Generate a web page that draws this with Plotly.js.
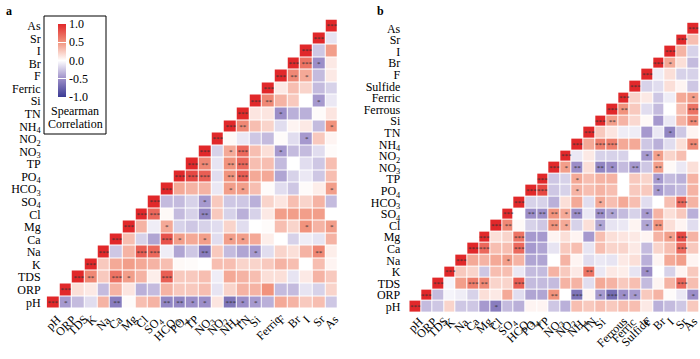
<!DOCTYPE html>
<html>
<head>
<meta charset="utf-8">
<script src="https://cdn.plot.ly/plotly-3.0.1.min.js"></script>
<style>
	body { margin: 0; background: #fff; }
	#chart { width: 700px; height: 359px; }
</style>
</head>
<body>
<div id="chart"></div>
<script>
// variables, bottom row / left column first
const labelsA = ['pH', 'ORP', 'TDS', 'K', 'Na', 'Ca', 'Mg', 'Cl', 'SO<sub>4</sub>', 'HCO<sub>3</sub>',
	'PO<sub>4</sub>', 'TP', 'NO<sub>3</sub>', 'NO<sub>2</sub>', 'NH<sub>4</sub>', 'TN', 'Si', 'Ferric',
	'F', 'Br', 'I', 'Sr', 'As'];

const labelsB = ['pH', 'ORP', 'TDS', 'K', 'Na', 'Ca', 'Mg', 'Cl', 'SO<sub>4</sub>', 'HCO<sub>3</sub>',
	'PO<sub>4</sub>', 'TP', 'NO<sub>3</sub>', 'NO<sub>2</sub>', 'NH<sub>4</sub>', 'TN', 'Si', 'Ferrous',
	'Ferric', 'Sulfide', 'F', 'Br', 'I', 'Sr', 'As'];

// each row starts at the diagonal
const corrA = [
	[1, -0.45, -0.3, -0.15, 0.35, -0.6, 0.02, 0.3, 0.35, -0.55, -0.55, -0.5, -0.5, 0.12, -0.65, -0.5, -0.45, -0.35, 0.4, 0.35, 0.25, 0.3, -0.25],
	[1, 0.15, 0.1, -0.3, 0.35, 0.12, -0.35, -0.3, 0.35, 0.25, 0.25, 0.3, -0.12, 0.2, 0.35, 0.35, 0.5, -0.3, -0.3, -0.12, -0.2, 0.2],
	[1, 0.55, 0.25, 0.65, 0.45, 0.35, 0.08, 0.75, 0.25, 0.25, 0.3, -0.08, 0.4, 0.35, 0.3, 0.15, 0.15, -0.12, 0.1, 0.35, 0.25],
	[1, 0.25, 0.4, 0.45, 0.4, 0.35, 0.3, 0.03, 0.02, 0, 0.3, 0.3, 0.2, 0.2, 0.25, 0.35, 0.3, 0, 0.3, 0.05],
	[1, -0.25, 0.35, 0.75, 0.7, -0.08, -0.4, -0.25, -0.6, 0.25, -0.3, -0.4, -0.45, -0.15, 0.2, 0.15, 0.35, 0.55, 0.08],
	[1, 0.3, -0.2, -0.4, 0.8, 0.45, 0.4, 0.45, -0.15, 0.45, 0.45, 0.4, 0.08, 0, -0.2, -0.08, -0.12, 0.35],
	[1, 0.35, -0.08, 0.4, -0.2, -0.25, -0.2, -0.15, 0.2, -0.15, 0, 0.02, 0.3, 0.2, 0.5, 0.35, 0.45],
	[1, 0.7, 0.03, -0.3, -0.2, -0.55, 0.25, -0.2, -0.35, -0.2, 0.1, 0.45, 0.45, 0.45, 0.45, 0],
	[1, -0.3, -0.3, -0.2, -0.45, 0.25, -0.25, -0.25, -0.35, 0.2, 0.12, 0.3, 0.2, 0.35, -0.3],
	[1, 0.4, 0.35, 0.35, -0.1, 0.45, 0.45, 0.3, 0.02, -0.15, -0.25, 0.02, 0.08, 0.45],
	[1, 0.85, 0.75, -0.15, 0.5, 0.75, 0.4, 0.4, -0.4, -0.2, -0.1, -0.25, 0.3],
	[1, 0.55, -0.12, 0.5, 0.7, 0.3, 0.3, -0.3, 0, -0.15, -0.25, 0.3],
	[1, -0.2, 0.4, 0.7, 0.3, 0.15, -0.45, -0.3, -0.3, -0.15, 0.02],
	[1, 0.03, -0.1, -0.25, -0.3, 0.02, -0.15, -0.45, 0.25, 0.05],
	[1, 0.55, 0.3, 0.2, -0.15, 0.05, 0.1, -0.3, 0.5],
	[1, 0.12, 0.12, -0.5, -0.35, -0.35, 0.02, 0.12],
	[1, 0.55, 0.35, 0.25, 0, -0.45, -0.1],
	[1, 0.1, 0.3, 0.2, -0.3, -0.2],
	[1, 0.55, 0.4, -0.3, 0.1],
	[1, 0.65, -0.5, 0.1],
	[1, -0.25, 0.45],
	[1, -0.12],
	[1],
];

const starsA = [
	['***', '*', '', '', '', '**', '', '', '', '**', '**', '*', '*', '', '***', '*', '*'],
	['***'],
	['***', '**', '', '***', '*', '', '', '***'],
	['***'],
	['***', '', '', '***', '***', '', '', '', '**', '', '', '', '*', '', '', '', '', '**'],
	['***', '', '', '', '***', '*', '', '*', '', '*', '*'],
	['***', '', '', '*', '', '', '', '', '', '', '', '', '', '', '*', '', '*'],
	['***', '***', '', '', '', '**'],
	['***', '', '', '', '*'],
	['***', '', '', '', '', '*', '*', '', '', '', '', '', '', '*'],
	['***', '***', '***', '', '**', '***'],
	['***', '**', '', '**', '***'],
	['***', '', '*', '***', '', '', '*'],
	['***', '', '', '', '', '', '', '*'],
	['***', '**', '', '', '', '', '', '', '*'],
	['***', '', '', '*'],
	['***', '**', '', '', '', '*'],
	['***'],
	['***', '**', '*'],
	['***', '***', '*'],
	['***'],
	['***'],
	['***'],
];

const corrB = [
	[1, -0.3, -0.25, 0.2, -0.25, -0.25, -0.45, -0.6, -0.3, -0.35, 0.05, 0.05, -0.25, -0.35, 0.3, 0.25, 0.3, 0.25, 0.3, 0.3, 0.1, -0.35, -0.3, -0.25, 0.25],
	[1, -0.3, -0.05, -0.08, -0.2, 0.15, 0.1, 0.4, -0.15, -0.4, -0.4, 0.5, 0, -0.65, 0.05, -0.45, -0.7, -0.5, -0.45, 0.25, 0.35, 0.02, -0.1, -0.5],
	[1, -0.05, 0.45, 0.6, 0.55, 0.2, 0.2, 0.75, -0.3, -0.3, -0.3, 0.35, 0.35, -0.15, 0.4, 0.35, 0.25, 0.3, -0.3, 0.05, 0.35, 0.7, 0.3],
	[1, 0.25, 0.2, -0.25, 0.3, 0.3, -0.1, -0.3, -0.3, 0.35, 0.25, 0.1, 0.65, -0.1, 0.1, 0.08, -0.12, -0.5, 0, -0.2, 0.05, 0.25],
	[1, 0.4, 0.35, 0.4, 0.45, 0.35, -0.4, -0.4, 0, 0.35, 0.05, -0.15, -0.1, -0.12, 0.1, 0.15, -0.35, 0.05, 0.4, 0.45, 0.05],
	[1, 0.7, 0.3, 0.3, 0.7, -0.45, -0.4, -0.12, 0.25, 0.3, -0.12, 0.3, 0.2, 0.2, 0.1, -0.3, 0.2, 0.3, 0.7, 0.25],
	[1, 0.15, 0.2, 0.65, -0.45, -0.45, 0.05, 0.15, 0.05, -0.45, 0.3, 0.15, 0.12, 0.1, 0.05, 0.35, 0.45, 0.85, 0.35],
	[1, 0.55, 0.03, -0.2, -0.25, 0.5, 0.4, -0.2, 0.15, -0.4, -0.12, -0.1, 0.05, -0.4, 0.5, 0.15, 0.05, -0.15],
	[1, 0, -0.5, -0.5, 0.5, 0.4, -0.5, -0.1, -0.5, -0.4, -0.3, -0.2, -0.45, 0.35, 0.15, 0.25, -0.35],
	[1, -0.2, -0.2, -0.35, 0.15, 0.4, -0.15, 0.4, 0.3, 0.4, 0.3, -0.15, 0, 0.3, 0.7, 0.35],
	[1, 0.85, -0.25, -0.2, 0.35, 0.3, 0.35, 0.3, 0, 0.25, 0.25, -0.45, -0.35, -0.3, 0.35],
	[1, -0.25, -0.2, 0.4, 0.3, 0.35, 0.35, 0, 0.25, 0.2, -0.45, -0.3, -0.35, 0.35],
	[1, 0.45, -0.5, 0.15, -0.55, -0.5, -0.3, -0.45, -0.25, 0.45, 0.03, -0.1, 0.15],
	[1, -0.1, 0.1, -0.2, -0.2, -0.2, 0, -0.45, 0.45, 0.2, 0.3, 0],
	[1, 0.4, 0.6, 0.6, 0.4, 0.4, -0.25, -0.35, -0.15, 0.15, 0.55],
	[1, 0.25, 0.12, -0.08, -0.08, -0.45, -0.1, -0.55, -0.25, 0.05],
	[1, 0.45, 0.35, 0.18, 0.03, -0.45, -0.1, 0.35, 0.55],
	[1, 0.5, 0.25, -0.15, -0.3, 0, 0.3, 0.65],
	[1, 0.2, 0.1, -0.25, -0.08, 0.4, 0.45],
	[1, -0.2, -0.15, 0.15, 0.05, -0.25],
	[1, -0.08, 0.15, -0.2, -0.2],
	[1, 0.4, 0.15, -0.3],
	[1, 0.35, -0.2],
	[1, 0.3],
	[1],
];

const starsB = [
	['***', '', '', '', '', '', '', '*'],
	['***', '', '', '', '', '', '', '', '', '', '', '**', '', '***', '', '*', '***', '*', '*', '', '', '', '', '*'],
	['***', '', '', '***', '**', '', '', '***', '', '', '', '', '', '', '', '', '', '', '', '', '', '***'],
	['***', '', '', '', '', '', '', '', '', '', '', '', '**', '', '', '', '', '*'],
	['***', '', '', '', '*'],
	['***', '***', '', '', '***', '', '', '', '', '', '', '', '', '', '', '', '', '', '***'],
	['***', '', '', '***', '', '', '', '', '', '', '', '', '', '', '', '', '*', '***'],
	['***', '**', '', '', '', '**', '*', '', '', '*', '', '', '', '*', '**'],
	['***', '', '**', '**', '**', '*', '**', '', '**', '*', '', '', '*'],
	['***', '', '', '', '', '', '', '*', '', '', '', '', '', '', '***'],
	['***', '***', '', '', '*', '', '', '', '', '', '', '*'],
	['***', '', '', '*', '', '', '', '', '', '', '*'],
	['***', '*', '**', '', '**', '*', '', '**', '', '**'],
	['***', '', '', '', '', '', '', '*', '*'],
	['***', '', '***', '***', '', '', '', '', '', '', '**'],
	['***', '', '', '', '', '', '', '*'],
	['***', '**', '', '', '', '', '', '', '**'],
	['***', '**', '', '', '', '', '', '***'],
	['***', '', '', '', '', '', '*'],
	['***'],
	['***'],
	['***', '*'],
	['***'],
	['***'],
	['***'],
];

// pad the triangle rows out to full matrices
function fill(rows, n, blank) {
	return rows.map(function (row, r) {
		var out = [];
		for (var j = 0; j < n; j++) {
			var k = j - r;
			out.push(k >= 0 && k < row.length ? row[k] : blank);
		}
		return out;
	});
}

var W = 700, H = 359;
function px(x) { return x / W; }
function py(y) { return 1 - y / H; }

var scale = [
	[0, '#3b3b94'],
	[0.25, '#9c8ec8'],
	[0.5, '#ffffff'],
	[0.75, '#f1937d'],
	[1, '#e1282a'],
];

var serif = 'Liberation Serif';
var nA = labelsA.length, nB = labelsB.length;
var idxA = labelsA.map(function (d, i) { return i; });
var idxB = labelsB.map(function (d, i) { return i; });

var heatA = {
	type: 'heatmap',
	x: idxA,
	y: idxA,
	z: fill(corrA, nA, null),
	text: fill(starsA, nA, ''),
	texttemplate: '%{text}',
	textfont: { size: 7, color: '#333', family: serif },
	colorscale: scale,
	zmin: -1,
	zmax: 1,
	xgap: 1,
	ygap: 1,
	hoverongaps: false,
	xaxis: 'x',
	yaxis: 'y',
	colorbar: {
		lenmode: 'pixels',
		len: 73,
		thickness: 8,
		x: px(58),
		xanchor: 'left',
		y: py(24),
		yanchor: 'top',
		xpad: 0,
		ypad: 0,
		outlinewidth: 0,
		ticks: 'inside',
		ticklen: 8,
		tickwidth: 1,
		tickcolor: '#fff',
		tickvals: [-1, -0.5, 0, 0.5, 1],
		ticktext: ['-1.0', '-0.5', '0.0', '0.5', '1.0'],
		tickfont: { family: serif, size: 12, color: '#000' },
	},
};

var heatB = {
	type: 'heatmap',
	x: idxB,
	y: idxB,
	z: fill(corrB, nB, null),
	text: fill(starsB, nB, ''),
	texttemplate: '%{text}',
	textfont: { size: 7, color: '#333', family: serif },
	colorscale: scale,
	zmin: -1,
	zmax: 1,
	xgap: 1,
	ygap: 1,
	hoverongaps: false,
	showscale: false,
	xaxis: 'x2',
	yaxis: 'y2',
};

var tickFont = { family: serif, size: 12, color: '#000' };

function axis(n, labels, domain, anchor, extra) {
	var a = {
		domain: domain,
		anchor: anchor,
		range: [-0.5, n - 0.5],
		tickvals: labels.map(function (d, i) { return i; }),
		ticktext: labels,
		showgrid: false,
		zeroline: false,
		showline: false,
		ticks: '',
		tickfont: tickFont,
	};
	for (var k in extra) a[k] = extra[k];
	return a;
}

// slanted column labels, centred under each column like the original
function colLabels(labels, xref, top, lastShift) {
	return labels.map(function (t, i) {
		return {
			text: t, x: i, xref: xref, y: py(top), yref: 'paper',
			xanchor: 'center', yanchor: 'top', textangle: -45,
			xshift: i === labels.length - 1 ? lastShift : 0,
			showarrow: false, borderpad: 0,
			font: { family: serif, size: 12, color: '#000' },
		};
	});
}

var layout = {
	width: W,
	height: H,
	margin: { l: 0, r: 0, t: 0, b: 0 },
	paper_bgcolor: '#fff',
	plot_bgcolor: '#fff',
	showlegend: false,
	font: { family: serif, color: '#000' },

	xaxis: axis(nA, labelsA, [px(46.7), px(338)], 'y', { showticklabels: false }),
	yaxis: axis(nA, labelsA, [py(308.6), py(19.5)], 'x', { ticklabelstandoff: 5 }),
	xaxis2: axis(nB, labelsB, [px(409.3), px(699.3)], 'y2', { showticklabels: false }),
	yaxis2: axis(nB, labelsB, [py(312.6), py(22.6)], 'x2', { ticklabelstandoff: 8 }),

	shapes: [
		{
			type: 'rect', xref: 'paper', yref: 'paper',
			x0: px(44), x1: px(106), y0: py(134), y1: py(16),
			line: { color: '#000', width: 1 },
		},
	],

	annotations: [
		{ text: '<b>a</b>', x: px(4), y: py(2), xref: 'paper', yref: 'paper', xanchor: 'left', yanchor: 'top', showarrow: false, font: { size: 12 } },
		{ text: '<b>b</b>', x: px(375), y: py(2), xref: 'paper', yref: 'paper', xanchor: 'left', yanchor: 'top', showarrow: false, font: { size: 12 } },
		{ text: 'Spearman', x: px(75), y: py(111), xref: 'paper', yref: 'paper', xanchor: 'center', yanchor: 'middle', showarrow: false, font: { size: 12 } },
		{ text: 'Correlation', x: px(75), y: py(124), xref: 'paper', yref: 'paper', xanchor: 'center', yanchor: 'middle', showarrow: false, font: { size: 12 } },
	].concat(colLabels(labelsA, 'x', 311, 0), colLabels(labelsB, 'x2', 313, -3)),
};

var config = { staticPlot: true, displayModeBar: false };

Plotly.newPlot('chart', [heatA, heatB], layout, config);
</script>
</body>
</html>
